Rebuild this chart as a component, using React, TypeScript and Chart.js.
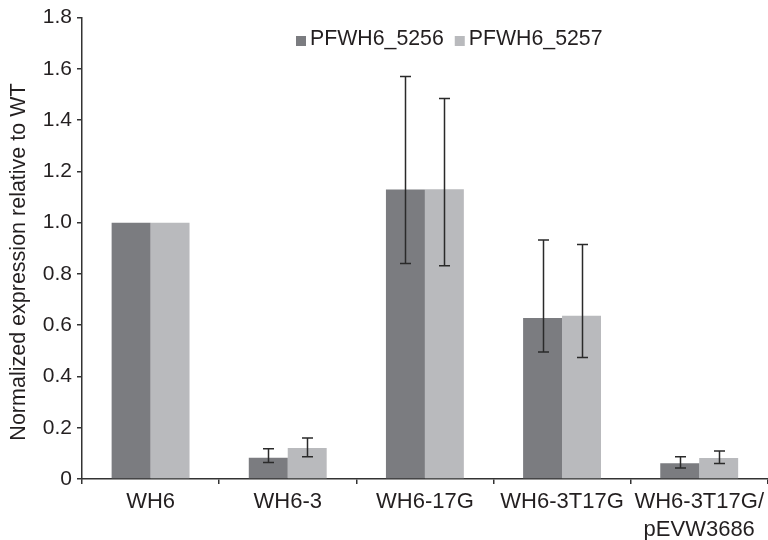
import React, { useEffect, useRef } from "react";
import { Chart, registerables } from "chart.js";

Chart.register(...registerables);

const categories: (string | string[])[] = ["WH6", "WH6-3", "WH6-17G", "WH6-3T17G", ["WH6-3T17G/", "pEVW3686"]];
const seriesNames = ["PFWH6_5256", "PFWH6_5257"];
const values5256 = [1.0, 0.083, 1.129, 0.628, 0.061];
const values5257 = [1.0, 0.121, 1.13, 0.637, 0.082];
const errHigh5256 = [null, 0.118, 1.57, 0.932, 0.087];
const errLow5256 = [null, 0.064, 0.841, 0.495, 0.043];
const errHigh5257 = [null, 0.16, 1.484, 0.915, 0.109];
const errLow5257 = [null, 0.087, 0.832, 0.474, 0.06];
const yTicks = [0, 0.2, 0.4, 0.6, 0.8, 1.0, 1.2, 1.4, 1.6, 1.8];
const yTitle = "Normalized expression relative to WT";

const colors = ["#7b7c80", "#b9babd"];
const FONT = "'Liberation Sans', Arial, Helvetica, sans-serif";
const TEXT = "#231f20";
const AXIS = "#333333";

const errHigh = [errHigh5256, errHigh5257];
const errLow = [errLow5256, errLow5257];

const errorBarPlugin = {
  id: "errorBars",
  afterDatasetsDraw(chart: any) {
    const ctx = chart.ctx;
    const y = chart.scales.y;
    ctx.save();
    ctx.strokeStyle = "#2a2a2a";
    ctx.lineWidth = 1.5;
    chart.data.datasets.forEach((_: any, i: number) => {
      const meta = chart.getDatasetMeta(i);
      meta.data.forEach((bar: any, j: number) => {
        const hi = errHigh[i][j];
        const lo = errLow[i][j];
        if (hi == null || lo == null) return;
        const x = Math.round(bar.x) + 0.5;
        const yh = y.getPixelForValue(hi);
        const yl = y.getPixelForValue(lo);
        const cap = 5.5;
        ctx.beginPath();
        ctx.moveTo(x, yh);
        ctx.lineTo(x, yl);
        ctx.moveTo(x - cap, yh);
        ctx.lineTo(x + cap, yh);
        ctx.moveTo(x - cap, yl);
        ctx.lineTo(x + cap, yl);
        ctx.stroke();
      });
    });
    ctx.restore();
  },
};

const legendPlugin = {
  id: "customLegend",
  afterDraw(chart: any) {
    const ctx = chart.ctx;
    ctx.save();
    ctx.font = `21.3px ${FONT}`;
    ctx.textBaseline = "middle";
    ctx.textAlign = "left";
    let x = 296;
    const yc = 39;
    chart.data.datasets.forEach((ds: any) => {
      ctx.fillStyle = ds.backgroundColor;
      ctx.fillRect(x, yc - 3, 10, 10);
      ctx.fillStyle = TEXT;
      ctx.fillText(ds.label, x + 14, yc);
      x += 14 + ctx.measureText(ds.label).width + 11;
    });
    ctx.restore();
  },
};

const yTitlePlugin = {
  id: "yTitle",
  afterDraw(chart: any) {
    const ctx = chart.ctx;
    ctx.save();
    ctx.translate(19, 262);
    ctx.rotate(-Math.PI / 2);
    ctx.font = `21.5px ${FONT}`;
    ctx.fillStyle = TEXT;
    ctx.textAlign = "center";
    ctx.textBaseline = "middle";
    ctx.fillText(yTitle, 0, 0);
    ctx.restore();
  },
};

export default function App() {
  const ref = useRef<HTMLCanvasElement | null>(null);
  useEffect(() => {
    if (!ref.current) return;
    const chart = new Chart(ref.current, {
      type: "bar",
      data: {
        labels: categories as any,
        datasets: [
          { label: seriesNames[0], data: values5256, backgroundColor: colors[0], borderWidth: 0 },
          { label: seriesNames[1], data: values5257, backgroundColor: colors[1], borderWidth: 0 },
        ],
      },
      options: {
        responsive: false,
        animation: false,
        layout: { padding: { top: 17, left: 0, right: 0, bottom: 0 } },
        datasets: { bar: { categoryPercentage: 0.568, barPercentage: 1 } },
        plugins: { legend: { display: false }, tooltip: { enabled: false } },
        scales: {
          x: {
            grid: { display: true, drawOnChartArea: false, drawTicks: true, tickLength: 5, color: AXIS, lineWidth: 1.5, offset: true },
            border: { display: true, color: AXIS, width: 1.5 },
            ticks: { font: { family: FONT, size: 22, lineHeight: 1.27 }, color: TEXT, padding: 4, maxRotation: 0, autoSkip: false },
            afterFit: (s: any) => { s.height = 61; },
          },
          y: {
            min: 0,
            max: 1.8,
            grid: { display: true, drawOnChartArea: false, drawTicks: true, tickLength: 5, color: AXIS, lineWidth: 1.5 },
            border: { display: true, color: AXIS, width: 1.5 },
            ticks: {
              font: { family: FONT, size: 21 },
              color: TEXT,
              padding: 5,
              callback: (v: any) => (Number(v) === 0 ? "0" : Number(v).toFixed(1)),
            },
            afterBuildTicks: (s: any) => { s.ticks = yTicks.map((v) => ({ value: v })); },
            afterFit: (s: any) => { s.width = 82; },
          },
        },
      } as any,
      plugins: [errorBarPlugin, legendPlugin, yTitlePlugin],
    });
    return () => chart.destroy();
  }, []);
  return (
    <div style={{ position: "absolute", left: 0, top: 0, width: 768, height: 540, background: "#fff" }}>
      <canvas ref={ref} width={768} height={540} style={{ display: "block" }} />
    </div>
  );
}
